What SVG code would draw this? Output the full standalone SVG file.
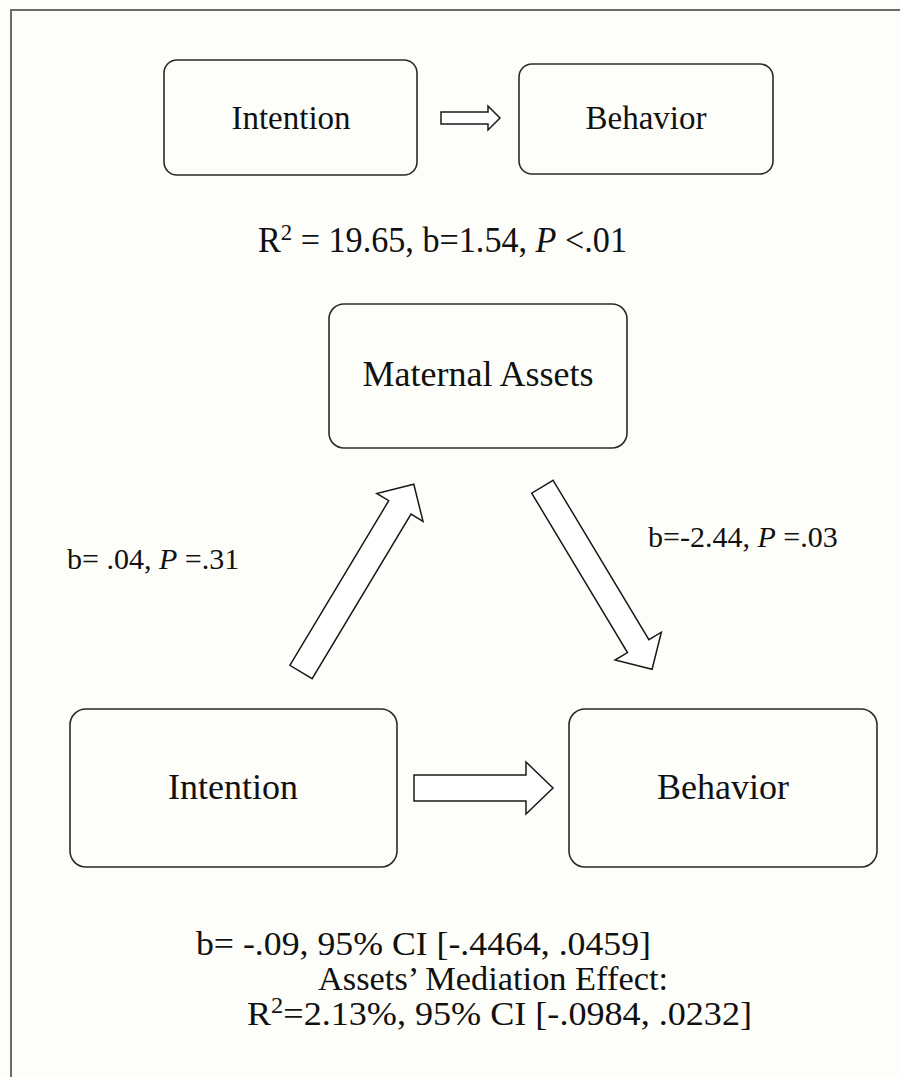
<svg xmlns="http://www.w3.org/2000/svg" width="900" height="1077" viewBox="0 0 900 1077">
<style>
.bg{fill:#fdfdf9}
.frame{stroke:#6b6b6b;stroke-width:2;fill:none}
.box{fill:#fdfdf9;stroke:#2a2a2a;stroke-width:1.6}
.arr{fill:#ffffff;stroke:#1a1a1a;stroke-width:1.5;stroke-linejoin:miter}
text{font-family:"Liberation Serif","Times New Roman",serif;fill:#111}
.lbl{font-size:33px;text-anchor:middle}
.big{font-size:36px;text-anchor:middle}
.stat{font-size:30px}
.foot{font-size:34px}
</style>
<rect class="bg" x="0" y="0" width="900" height="1077"/>
<path class="frame" d="M11,1077 V10 H900"/>

<g id="top-intention">
<rect class="box" x="164" y="60" width="253" height="115" rx="13"/>
<text class="lbl" x="291" y="129">Intention</text>
</g>
<g id="top-behavior">
<rect class="box" x="519" y="64" width="254" height="110" rx="13"/>
<text class="lbl" x="646" y="129">Behavior</text>
</g>
<g id="maternal-assets">
<rect class="box" x="329" y="304" width="298" height="144" rx="15"/>
<text class="big" x="478" y="386">Maternal Assets</text>
</g>
<g id="bottom-intention">
<rect class="box" x="70" y="709" width="327" height="158" rx="16"/>
<text class="big" x="233" y="799">Intention</text>
</g>
<g id="bottom-behavior">
<rect class="box" x="569" y="709" width="308" height="158" rx="16"/>
<text class="big" x="723" y="799">Behavior</text>
</g>

<g id="connectors">
<polygon class="arr" points="441,112 488,112 488,106 500,118 488,130 488,124 441,124"/>
<polygon class="arr" transform="translate(301,672) rotate(-59)" points="0,-13 192,-13 192,-27 219,0 192,27 192,13 0,13"/>
<polygon class="arr" transform="translate(542.4,486.7) rotate(59)" points="0,-12.5 186,-12.5 186,-27 213,0 186,27 186,12.5 0,12.5"/>
<polygon class="arr" points="414,775 526,775 526,762 553,788 526,814 526,801 414,801"/>
</g>

<g id="labels">
<text x="258" y="252" font-size="36" textLength="369" lengthAdjust="spacingAndGlyphs">R<tspan dy="-12" font-size="24">2</tspan><tspan dy="12"> = 19.65, b=1.54, </tspan><tspan font-style="italic">P</tspan> &lt;.01</text>
<text class="stat" x="67" y="569">b= .04, <tspan font-style="italic">P</tspan> =.31</text>
<text class="stat" x="648" y="547">b=-2.44, <tspan font-style="italic">P</tspan> =.03</text>
<text class="foot" x="196" y="955" textLength="455" lengthAdjust="spacingAndGlyphs">b= -.09, 95% CI [-.4464, .0459]</text>
<text class="foot" x="318" y="990" textLength="350" lengthAdjust="spacingAndGlyphs">Assets’ Mediation Effect:</text>
<text class="foot" x="247" y="1025" textLength="505" lengthAdjust="spacingAndGlyphs">R<tspan dy="-12" font-size="23">2</tspan><tspan dy="12">=2.13%, 95% CI [-.0984, .0232]</tspan></text>
</g>
</svg>
